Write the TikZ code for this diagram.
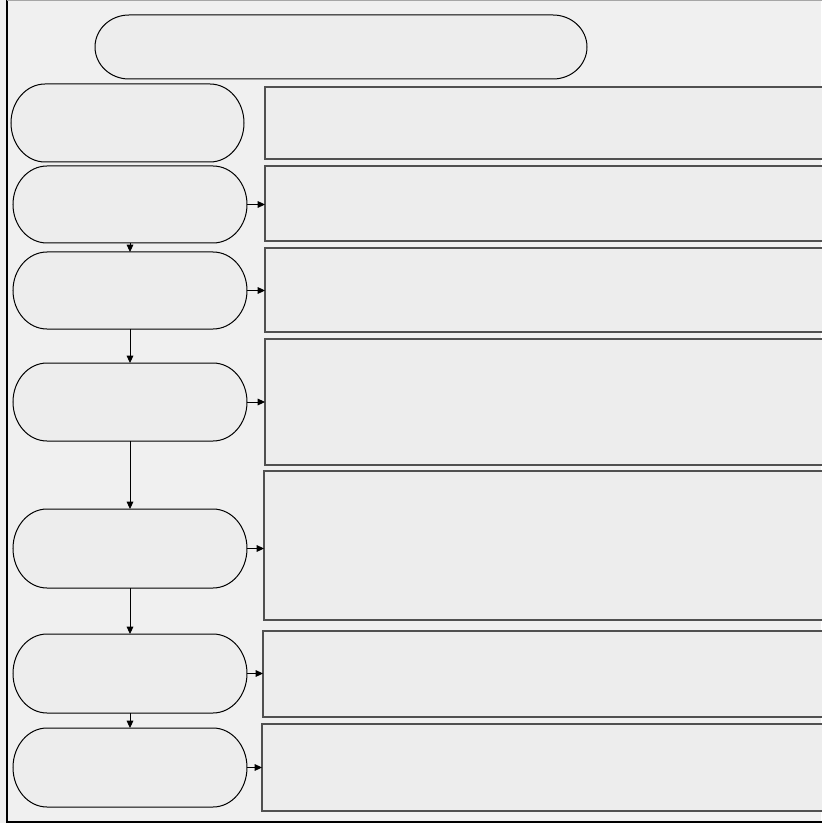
\documentclass[tikz,border=0pt]{standalone}
\usetikzlibrary{arrows.meta}
\definecolor{bgc}{RGB}{240,240,240}
\definecolor{boxfill}{RGB}{237,237,237}
\definecolor{rectline}{RGB}{80,80,80}
\tikzset{
  stadline/.style={draw=black, line width=0.75pt, fill=boxfill},
  anchorbox/.style={inner sep=0pt, outer sep=0pt, draw=none},
  infobox/.style={rectangle, draw=rectline, line width=1pt, fill=boxfill, inner sep=0pt, outer sep=0pt},
  conn/.style={draw=black, line width=0.7pt, -{Triangle[length=5.5pt,width=5pt]}},
}
\newcommand{\stadiumshape}[5]{%
  \node[anchorbox, minimum width={(#4-#2)*0.75pt}, minimum height={(#5-#3)*0.75pt}] (#1) at ({(#2+#4)/2},{(#3+#5)/2}) {};
  \path[stadline] ({#2+34},#3) -- ({#4-34},#3)
    arc[start angle=90, end angle=-90, x radius=25.5pt, y radius={(#5-#3)*0.375pt}]
    -- ({#2+34},#5)
    arc[start angle=270, end angle=90, x radius=25.5pt, y radius={(#5-#3)*0.375pt}]
    -- cycle;
}
\newcommand{\infoshape}[5]{%
  \node[infobox, minimum width={(#4-#2)*0.75pt}, minimum height={(#5-#3)*0.75pt}] (#1) at ({(#2+#4)/2},{(#3+#5)/2}) {};
}
\begin{document}
\begin{tikzpicture}[x=0.75pt,y=-0.75pt]
\useasboundingbox (0,0) rectangle (821,823);
\fill[bgc] (0,0) rectangle (821,823);
\draw[draw=black, line width=0.8pt] (840,0.6) -- (7,0.6) -- (7,822) -- (840,822);
\draw[draw=gray!70, line width=0.9pt] (7,0.6) -- (840,0.6);
% top stadium
\stadiumshape{title}{95}{15}{587}{79}
% left stadiums
\stadiumshape{s1}{11}{84}{244}{162}
\stadiumshape{s2}{13}{166}{247}{243}
\stadiumshape{s3}{13}{252}{247}{329}
\stadiumshape{s4}{13}{363}{247}{441}
\stadiumshape{s5}{13}{509}{247}{588}
\stadiumshape{s6}{13}{634}{247}{713}
\stadiumshape{s7}{13}{728}{247}{807}
% right boxes
\infoshape{r1}{265}{87}{840}{159}
\infoshape{r2}{265}{166}{840}{241}
\infoshape{r3}{265}{248}{840}{332}
\infoshape{r4}{265}{339}{840}{465}
\infoshape{r5}{264}{471}{840}{620}
\infoshape{r6}{263}{631}{840}{717}
\infoshape{r7}{262}{724}{840}{811}
% horizontal connectors
\foreach \i in {2,...,7} {
  \draw[conn] (s\i.east) -- (s\i.east -| r\i.west);
}
% vertical connectors
\draw[conn] (s2.south) -- (s3.north);
\draw[conn] (s3.south) -- (s4.north);
\draw[conn] (s4.south) -- (s5.north);
\draw[conn] (s5.south) -- (s6.north);
\draw[conn] (s6.south) -- (s7.north);
\end{tikzpicture}
\end{document}
